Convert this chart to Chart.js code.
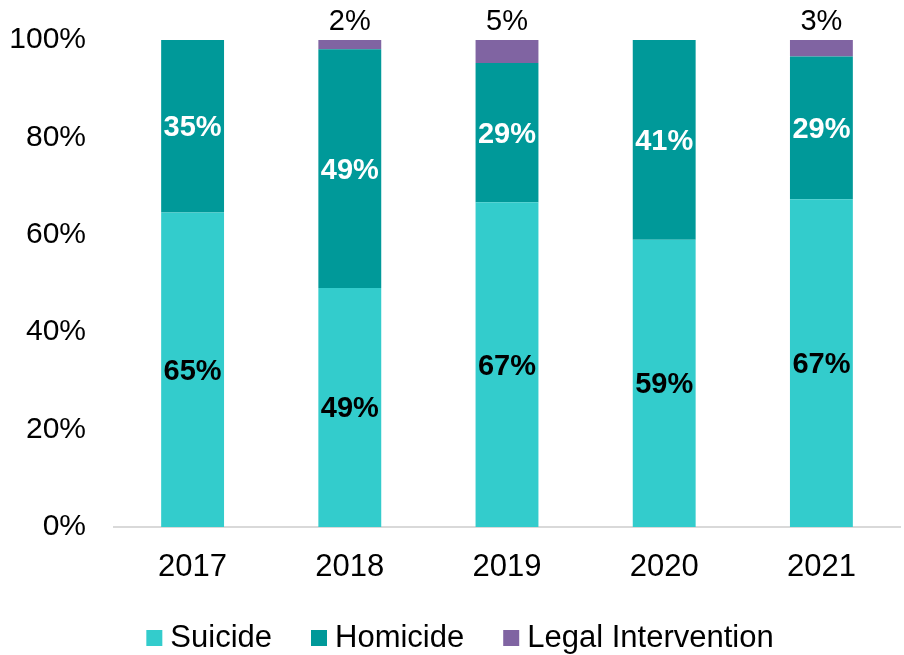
<!DOCTYPE html>
<html>
<head>
<meta charset="utf-8">
<script src="https://cdn.jsdelivr.net/npm/chart.js@4"></script>
<style>
  html, body { margin: 0; padding: 0; background: #fff; }
  #chart { display: block; }
</style>
</head>
<body>
<canvas id="chart" width="904" height="655"></canvas>
<script>
// ===== DATA =====
const years = ["2017", "2018", "2019", "2020", "2021"];
const suicide = [64.6, 49.1, 66.7, 59.0, 67.3];
const homicide = [35.4, 49.0, 28.6, 41.0, 29.3];
const legal = [0, 1.9, 4.7, 0, 3.4];
const yTicks = [0, 20, 40, 60, 80, 100];

const FONT = "'Liberation Sans', Arial, sans-serif";

// ===== VALUE LABELS =====
// bold labels inside suicide/homicide segments, plain label above the legal segment
const valueLabels = {
  id: "valueLabels",
  afterDatasetsDraw(chart) {
    const ctx = chart.ctx;
    ctx.save();
    ctx.textAlign = "center";
    ctx.textBaseline = "middle";
    chart.data.datasets.forEach((ds, i) => {
      const meta = chart.getDatasetMeta(i);
      meta.data.forEach((bar, j) => {
        const v = ds.data[j];
        if (!v) return;
        const text = Math.round(v) + "%";
        if (ds.labelPos === "top") {
          ctx.font = "normal 29px " + FONT;
          ctx.fillStyle = "#000";
          ctx.fillText(text, bar.x, bar.y - 18);
        } else {
          ctx.font = "bold 29px " + FONT;
          ctx.fillStyle = ds.labelColor;
          ctx.fillText(text, bar.x, (bar.y + bar.base) / 2 + 2);
        }
      });
    });
    ctx.restore();
  }
};

// ===== LEGEND (bottom, small squares) =====
const bottomLegend = {
  id: "bottomLegend",
  afterDraw(chart) {
    const ctx = chart.ctx;
    const box = 16, gap = 8, itemGap = 39, cy = 638;
    ctx.save();
    ctx.font = "31px " + FONT;
    ctx.textBaseline = "middle";
    ctx.textAlign = "left";
    const items = chart.data.datasets.map(ds => ({
      label: ds.label, color: ds.backgroundColor, w: ctx.measureText(ds.label).width
    }));
    const total = items.reduce((s, it) => s + box + gap + it.w, 0) + itemGap * (items.length - 1);
    let x = 460 - total / 2;
    items.forEach(it => {
      ctx.fillStyle = it.color;
      ctx.fillRect(x, cy - box / 2, box, box);
      ctx.fillStyle = "#000";
      ctx.fillText(it.label, x + box + gap, cy);
      x += box + gap + it.w + itemGap;
    });
    ctx.restore();
  }
};

// ===== CHART =====
const ctx = document.getElementById("chart").getContext("2d");
new Chart(ctx, {
  type: "bar",
  data: {
    labels: years,
    datasets: [
      { label: "Suicide", data: suicide, backgroundColor: "#33CCCC", labelColor: "#000" },
      { label: "Homicide", data: homicide, backgroundColor: "#009999", labelColor: "#fff" },
      { label: "Legal Intervention", data: legal, backgroundColor: "#8064A2", labelPos: "top" }
    ]
  },
  options: {
    responsive: false,
    animation: false,
    layout: { padding: { top: 40, right: 4, left: 0, bottom: 0 } },
    datasets: { bar: { categoryPercentage: 1, barPercentage: 0.4, borderWidth: 0 } },
    plugins: { legend: { display: false }, tooltip: { enabled: false } },
    scales: {
      x: {
        stacked: true,
        grid: { display: false },
        border: { display: true, color: "#D9D9D9", width: 2 },
        ticks: {
          color: "#000",
          font: { family: FONT, size: 31 },
          padding: 14,
          autoSkip: false,
          maxRotation: 0
        },
        afterFit(scale) { scale.height = 128; }
      },
      y: {
        stacked: true,
        min: 0,
        max: 100,
        grid: { display: false },
        border: { display: false },
        afterBuildTicks(scale) { scale.ticks = yTicks.map(v => ({ value: v })); },
        ticks: {
          color: "#000",
          font: { family: FONT, size: 30 },
          padding: 20,
          callback: v => v + "%"
        },
        afterFit(scale) { scale.width = 114; }
      }
    }
  },
  plugins: [valueLabels, bottomLegend]
});
</script>
</body>
</html>
